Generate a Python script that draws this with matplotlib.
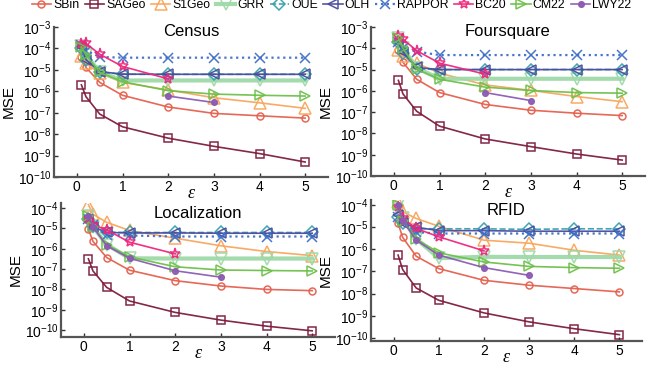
import numpy as np
import matplotlib
matplotlib.use("Agg")
import matplotlib.pyplot as plt
from matplotlib.ticker import FixedLocator, FuncFormatter, NullLocator

plt.rcParams["font.family"] = ["Liberation Sans", "DejaVu Sans"]
plt.rcParams["mathtext.fontset"] = "custom"
plt.rcParams["mathtext.rm"] = "Liberation Sans"
plt.rcParams["mathtext.it"] = "Liberation Sans:italic"

eps = [0.1, 0.2, 0.5, 1, 2, 3, 4, 5]
nan = np.nan

# Census
census = {
    "SBin":   [4e-5, 1.3e-5, 2.6e-6, 6.5e-7, 1.85e-7, 9.3e-8, 7.2e-8, 5.6e-8],
    "SAGeo":  [2e-6, 5.6e-7, 8.7e-8, 2.2e-8, 6.5e-9, 2.7e-9, 1.24e-9, 5e-10],
    "S1Geo":  [4.6e-5, 2e-5, 7e-6, 2.6e-6, 1.15e-6, 5e-7, 2.9e-7, 1.6e-7],
    "GRR":    [1.3e-4, 5e-5, 8e-6, 3.2e-6, 3.2e-6, 3.2e-6, 3.2e-6, 3.2e-6],
    "OUE":    [1.1e-4, 3e-5, 8e-6, 6.2e-6, 6.2e-6, 6.2e-6, 6.2e-6, 6.2e-6],
    "OLH":    [1.15e-4, 3e-5, 8.3e-6, 6.3e-6, 6.2e-6, 6.2e-6, 6.2e-6, 6.2e-6],
    "RAPPOR": [1.5e-4, 8e-5, 4e-5, 3.7e-5, 3.7e-5, 3.7e-5, 3.7e-5, 3.7e-5],
    "BC20":   [1.6e-4, 1.7e-4, 5.4e-5, 1.44e-5, 3.8e-6, nan, nan, nan],
    "CM22":   [1.2e-4, 5e-5, 7.7e-6, 2.8e-6, 1.07e-6, 7.4e-7, 6.5e-7, 6e-7],
    "LWY22":  [nan, nan, nan, nan, 6e-7, 3e-7, nan, nan],
}

# Foursquare
foursquare = {
    "SBin":   [8e-5, 2.2e-5, 3.5e-6, 8.3e-7, 2.3e-7, 1.23e-7, 8.9e-8, 6.9e-8],
    "SAGeo":  [3.1e-6, 7.2e-7, 1.1e-7, 2.2e-8, 5.5e-9, 2.4e-9, 1.08e-9, 5.6e-10],
    "S1Geo":  [8.5e-5, 4.2e-5, 2e-5, 6.8e-6, 1.9e-6, 1.05e-6, 5.4e-7, 3.1e-7],
    "GRR":    [3e-4, 1e-4, 1.2e-5, 3.7e-6, 3.7e-6, 3.7e-6, 3.7e-6, 3.7e-6],
    "OUE":    [2e-4, 6e-5, 1.1e-5, 1e-5, 1e-5, 1e-5, 1e-5, 1e-5],
    "OLH":    [1.9e-4, 7e-5, 1.26e-5, 1e-5, 1e-5, 1e-5, 1e-5, 1e-5],
    "RAPPOR": [2e-4, 1e-4, 7e-5, 4.8e-5, 4.8e-5, 4.8e-5, 4.8e-5, 4.8e-5],
    "BC20":   [3.6e-4, 2.7e-4, 7.7e-5, 2e-5, 6.1e-6, nan, nan, nan],
    "CM22":   [3e-4, 1e-4, 1.05e-5, 3.5e-6, 1.5e-6, 1.04e-6, 8.3e-7, 7.8e-7],
    "LWY22":  [nan, nan, nan, nan, 8.3e-7, 3.5e-7, nan, nan],
}

# Localization
localization = {
    "SBin":   [9.2e-6, 2.3e-6, 3.7e-7, 8.8e-8, 2.7e-8, 1.47e-8, 1e-8, 8.7e-9],
    "SAGeo":  [3.2e-7, 8.1e-8, 1.26e-8, 2.7e-9, 7.4e-10, 3.1e-10, 1.56e-10, 9.2e-11],
    "S1Geo":  [1.46e-4, 5e-5, 2e-5, 7.9e-6, 3.3e-6, 1.4e-6, 7.3e-7, 4.6e-7],
    "GRR":    [4e-5, 1.2e-5, 1.6e-6, 3.4e-7, 3.3e-7, 3.3e-7, 3.3e-7, 3.3e-7],
    "OUE":    [3e-5, 1.3e-5, 6.5e-6, 6.3e-6, 6.3e-6, 6.3e-6, 6.3e-6, 6.3e-6],
    "OLH":    [2.6e-5, 1.2e-5, 6.3e-6, 6e-6, 6e-6, 5.8e-6, 5.8e-6, 5.8e-6],
    "RAPPOR": [3e-5, 1.5e-5, 5e-6, 4.5e-6, 4e-6, 4e-6, 4e-6, 4e-6],
    "BC20":   [3e-5, 1.5e-5, 8.5e-6, 2.1e-6, 5.6e-7, nan, nan, nan],
    "CM22":   [4e-5, 1.2e-5, 1.6e-6, 4e-7, 1.3e-7, 9e-8, 8.5e-8, 8.1e-8],
    "LWY22":  [4e-5, 1.2e-5, 1.4e-6, 3.4e-7, 8.3e-8, 4e-8, nan, nan],
}

# RFID
rfid = {
    "SBin":   [1.5e-5, 3.5e-6, 4.9e-7, 1.35e-7, 4e-8, 2.4e-8, 1.7e-8, 1.2e-8],
    "SAGeo":  [5.5e-7, 1.23e-7, 1.8e-8, 5e-9, 1.35e-9, 5.3e-10, 2.6e-10, 1.4e-10],
    "S1Geo":  [1.4e-4, 5e-5, 2.5e-5, 1.1e-5, 2.6e-6, 1.9e-6, 9.1e-7, 5.5e-7],
    "GRR":    [1e-4, 2.5e-5, 3e-6, 4e-7, 4.6e-7, 4.5e-7, 4.5e-7, 4.5e-7],
    "OUE":    [3e-5, 1.5e-5, 8.5e-6, 8.5e-6, 8.5e-6, 8e-6, 8.5e-6, 8.5e-6],
    "OLH":    [3.5e-5, 1.5e-5, 1e-5, 7e-6, 7e-6, 6.6e-6, 6.6e-6, 6.6e-6],
    "RAPPOR": [3e-5, 2e-5, 6e-6, 5.2e-6, 5.2e-6, 5.2e-6, 5.2e-6, 5.2e-6],
    "BC20":   [8e-5, 2.5e-5, 8.8e-6, 3.7e-6, 8.6e-7, nan, nan, nan],
    "CM22":   [1e-4, 2e-5, 3e-6, 7e-7, 2.7e-7, 1.7e-7, 1.5e-7, 1.4e-7],
    "LWY22":  [1e-4, 2e-5, 2.6e-6, 5.5e-7, 1.5e-7, 6.7e-8, nan, nan],
}

datasets = ["Census", "Foursquare", "Localization", "RFID"]
all_data = [census, foursquare, localization, rfid]
methods = ["SBin", "SAGeo", "S1Geo", "GRR", "OUE", "OLH", "RAPPOR", "BC20", "CM22", "LWY22"]

# color, marker, markersize, linestyle, linewidth
style = {
    "SBin":   ("#e5604e", "o", 5, "-", 1.2),
    "SAGeo":  ("#7d1c3e", "s", 6, "-", 1.2),
    "S1Geo":  ("#f9a65c", "^", 8, "-", 1.2),
    "GRR":    ("#9fd9a9", "v", 8, "-", 3.0),
    "OUE":    ("#36a2ad", "D", 6, "--", 1.2),
    "OLH":    ("#4b4b9e", "<", 7, "-", 1.2),
    "RAPPOR": ("#3e6fc8", "x", 7, ":", 1.6),
    "BC20":   ("#f0267c", "*", 8, "-", 1.2),
    "CM22":   ("#6cc04a", ">", 7, "-", 1.2),
    "LWY22":  ("#8c5bb2", "o", 4, "-", 1.2),
}

W, H = 663, 366
# axes boxes in pixels: left, top, right, bottom
boxes = [(54, 27, 328, 177), (371, 27, 645, 176), (61, 203, 335, 337), (371, 200, 642, 341)]
ylims = [(1e-10, 1e-3), (1e-10, 1e-3), (10**-10.34, 10**-3.75), (10**-10.14, 10**-3.77)]
ytks = [range(-10, -2), range(-10, -2), range(-10, -3), range(-10, -3)]
title_y = [1.02, 1.02, 0.98, 0.98]

fig = plt.figure(figsize=(W / 100, H / 100), dpi=100)

handles = []
for k, (name, d) in enumerate(zip(datasets, all_data)):
    l, t, r, b = boxes[k]
    ax = fig.add_axes([l / W, 1 - b / H, (r - l) / W, (b - t) / H])
    for m in methods:
        c, mk, ms, ls, lw = style[m]
        fill = c if m == "LWY22" else "none"
        h, = ax.plot(eps, d[m], color=c, marker=mk, markersize=ms, linestyle=ls,
                     linewidth=lw, markerfacecolor=fill, markeredgewidth=1.1,
                     label=m, alpha=0.95)
        if k == 0:
            handles.append(h)
    ax.set_yscale("log")
    ax.set_ylim(*ylims[k])
    ax.set_xlim(-0.5, 5.5)
    ax.set_xticks(range(6))
    ax.yaxis.set_major_locator(FixedLocator([10.0**e for e in ytks[k]]))
    ax.yaxis.set_minor_locator(NullLocator())
    ax.yaxis.set_major_formatter(FuncFormatter(
        lambda v, p: r"$\mathregular{10^{%d}}$" % round(np.log10(v))))
    ax.tick_params(direction="in", labelsize=10, length=3, width=1, colors="#333333",
                   pad=2)
    ax.tick_params(axis="both", labelcolor="black")
    for s in ["top", "right"]:
        ax.spines[s].set_visible(False)
    for s in ["left", "bottom"]:
        ax.spines[s].set_linewidth(1.6)
        ax.spines[s].set_color("#555555")
    ax.set_ylabel("MSE", fontsize=11, labelpad=1)
    ax.set_xlabel("ε", fontsize=13, family="Liberation Serif", style="italic",
                  labelpad=-6)
    ax.text(0.5, title_y[k], name, transform=ax.transAxes, ha="center", va="top",
            fontsize=12, clip_on=False)

fig.legend(handles=handles, labels=methods, loc="upper center", ncol=10,
           bbox_to_anchor=(0.5, 1.015), frameon=False, fontsize=8.8,
           handlelength=1.6, handletextpad=0.15, columnspacing=0.45,
           borderaxespad=0.2, borderpad=0.2)

fig.savefig("out.png", dpi=100)
